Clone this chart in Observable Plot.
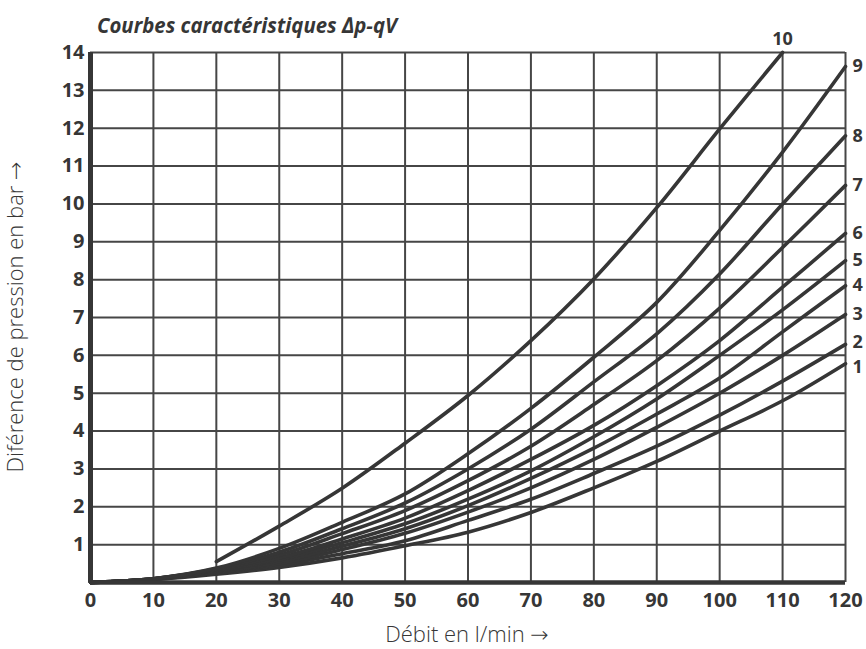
<!DOCTYPE html>
<html>
<head>
<meta charset="utf-8">
<script src="https://cdn.jsdelivr.net/npm/d3@7"></script>
<script src="https://cdn.jsdelivr.net/npm/@observablehq/plot@0.6"></script>
<style>
  html, body { margin: 0; padding: 0; background: #fff; }
  #chart svg { font-family: "Open Sans", "DejaVu Sans", sans-serif; }
</style>
</head>
<body>
<div id="chart"></div>
<script>
// Flow (l/min) sample points
const flow = [0, 10, 20, 30, 40, 50, 60, 70, 80, 90, 100, 110, 120];
// Pressure difference (bar) for curves 1..9
const curve1 = [0, 0.08, 0.22, 0.40, 0.65, 0.97, 1.33, 1.85, 2.50, 3.20, 4.00, 4.80, 5.78];
const curve2 = [0, 0.08, 0.25, 0.45, 0.76, 1.10, 1.64, 2.20, 2.88, 3.60, 4.42, 5.32, 6.29];
const curve3 = [0, 0.09, 0.27, 0.50, 0.87, 1.30, 1.86, 2.50, 3.25, 4.10, 5.00, 6.00, 7.08];
const curve4 = [0, 0.09, 0.28, 0.55, 0.96, 1.42, 2.03, 2.75, 3.55, 4.45, 5.40, 6.62, 7.84];
const curve5 = [0, 0.09, 0.30, 0.60, 1.05, 1.55, 2.20, 2.95, 3.85, 4.85, 6.00, 7.20, 8.50];
const curve6 = [0, 0.10, 0.32, 0.65, 1.15, 1.70, 2.43, 3.25, 4.15, 5.20, 6.39, 7.80, 9.22];
const curve7 = [0, 0.10, 0.34, 0.72, 1.29, 1.90, 2.69, 3.60, 4.70, 5.86, 7.25, 8.85, 10.49];
const curve8 = [0, 0.10, 0.36, 0.80, 1.42, 2.10, 3.00, 4.05, 5.30, 6.57, 8.15, 10.00, 11.80];
const curve9 = [0, 0.10, 0.38, 0.90, 1.59, 2.34, 3.40, 4.60, 5.95, 7.40, 9.30, 11.37, 13.63];
// Curve 10 starts at 20 l/min and ends at 110 l/min
const flow10 = [20, 30, 40, 50, 60, 70, 80, 90, 100, 110];
const curve10 = [0.55, 1.49, 2.49, 3.68, 4.94, 6.39, 8.02, 9.90, 11.98, 14.00];

const curveNames = ["1", "2", "3", "4", "5", "6", "7", "8", "9"];
const curveSeries = [curve1, curve2, curve3, curve4, curve5, curve6, curve7, curve8, curve9];

const xTicks = [0, 10, 20, 30, 40, 50, 60, 70, 80, 90, 100, 110, 120];
const yTicks = [1, 2, 3, 4, 5, 6, 7, 8, 9, 10, 11, 12, 13, 14];

const titleText = "Courbes caractéristiques \u2206p-qV";
const xLabel = "Débit en l/min \u2192";
const yLabel = "Diférence de pression en bar \u2192";

// Build table
const rows = [];
curveSeries.forEach((s, i) => {
  s.forEach((v, j) => rows.push({curve: curveNames[i], q: flow[j], p: v}));
});
flow10.forEach((q, j) => rows.push({curve: "10", q, p: curve10[j]}));

const endLabels = curveSeries.map((s, i) => ({curve: curveNames[i], q: flow[flow.length - 1], p: s[s.length - 1]}));
const upperLabels = endLabels.filter(d => d.curve !== "1" && d.curve !== "2");
const label2 = endLabels.filter(d => d.curve === "2");
const label1 = endLabels.filter(d => d.curve === "1");
const topLabel = [{curve: "10", q: flow10[flow10.length - 1], p: curve10[curve10.length - 1]}];

const ink = "#363636";
const grid = "#464646";
const labelStyle = {x: "q", y: "p", text: "curve", dx: 7, textAnchor: "start", fontSize: 18, fontWeight: "bold", fill: ink};

const chart = Plot.plot({
  width: 866,
  height: 649,
  marginLeft: 90,
  marginRight: 21,
  marginTop: 52,
  marginBottom: 67,
  x: {domain: [0, 120]},
  y: {domain: [0, 14]},
  marks: [
    Plot.ruleX(xTicks, {stroke: grid, strokeWidth: 2}),
    Plot.ruleY(yTicks, {stroke: grid, strokeWidth: 2}),
    Plot.line(rows, {x: "q", y: "p", z: "curve", stroke: ink, strokeWidth: 3.6, curve: "catmull-rom"}),
    Plot.ruleX([0], {stroke: ink, strokeWidth: 5}),
    Plot.ruleY([0], {stroke: ink, strokeWidth: 4.5}),
    Plot.axisX({ticks: xTicks, tickSize: 0, tickPadding: 10, fontSize: 20, fontWeight: "bold", fill: ink, label: null, tickFormat: d => String(d)}),
    Plot.axisY({ticks: yTicks, tickSize: 0, tickPadding: 6, fontSize: 20, fontWeight: "bold", fill: ink, label: null, tickFormat: d => String(d)}),
    Plot.text(upperLabels, labelStyle),
    Plot.text(label2, {...labelStyle, dy: -2}),
    Plot.text(label1, {...labelStyle, dy: 4}),
    Plot.text(topLabel, {x: "q", y: "p", text: "curve", dy: -13, textAnchor: "middle", fontSize: 18, fontWeight: "bold", fill: ink})
  ]
});

document.getElementById("chart").appendChild(chart);

const svg = d3.select(chart);
svg.append("text")
  .attr("x", 97).attr("y", 33)
  .attr("text-anchor", "start")
  .attr("font-size", 22).attr("font-weight", "bold").attr("font-style", "italic")
  .attr("textLength", 300).attr("lengthAdjust", "spacingAndGlyphs")
  .attr("fill", ink)
  .text(titleText);
svg.append("text")
  .attr("x", 467).attr("y", 642)
  .attr("text-anchor", "middle")
  .attr("font-size", 22).attr("font-weight", 300)
  .attr("fill", ink)
  .text(xLabel);
svg.append("text")
  .attr("transform", "translate(23,317) rotate(-90)")
  .attr("text-anchor", "middle")
  .attr("font-size", 22).attr("font-weight", 300)
  .attr("fill", ink)
  .text(yLabel);
</script>
</body>
</html>
